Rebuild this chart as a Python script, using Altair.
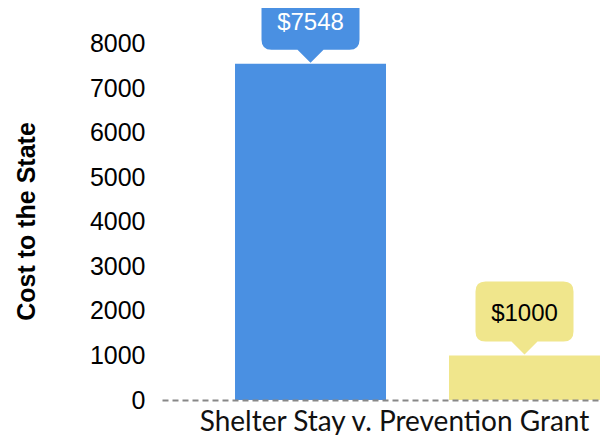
import altair as alt
import pandas as pd

categories = ["Shelter Stay", "Prevention Grant"]
costs = [7548, 1000]
labels = ["$7548", "$1000"]
y_ticks = [0, 1000, 2000, 3000, 4000, 5000, 6000, 7000, 8000]

bar_colors = ["#4a90e2", "#f0e68c"]
text_colors = ["#ffffff", "#000000"]

df = pd.DataFrame({"category": categories, "cost": costs, "label": labels})

callout_path = ("M0,-1 L-13,-14 L-39,-14 Q-49,-14 -49,-24 L-49,-64 Q-49,-74 -39,-74 "
                "L39,-74 Q49,-74 49,-64 L49,-24 Q49,-14 39,-14 L13,-14 Z")

x_enc = alt.X(
    "category:N",
    sort=categories,
    scale=alt.Scale(paddingInner=0.2944, paddingOuter=0.1706, align=1),
    axis=alt.Axis(
        labels=False, ticks=False,
        domainDash=[6, 4], domainColor="#888888", domainWidth=2, zindex=1,
        title="Shelter Stay v. Prevention Grant",
        titleFont="Lato", titleFontSize=28, titleFontWeight="normal",
        titleColor="#111111", titleX=232, titleY=30,
        titleBaseline="alphabetic", titleAlign="center",
    ),
)
y_enc = alt.Y(
    "cost:Q",
    scale=alt.Scale(domain=[0, 8600], nice=False),
    axis=alt.Axis(
        values=y_ticks, format="d", grid=False, domain=False, ticks=False,
        labelPadding=17, labelFont="Liberation Sans", labelFontSize=25,
        labelColor="#000000",
        title="Cost to the State", titleFont="Liberation Sans",
        titleFontSize=25, titleFontWeight="bold", titleColor="#000000",
        titleX=-136, titleY=204, titleBaseline="middle", titleAlign="center",
    ),
)

bar_color = alt.Color("category:N", scale=alt.Scale(domain=categories, range=bar_colors), legend=None)
txt_color = alt.Color("category:N", scale=alt.Scale(domain=categories, range=text_colors), legend=None)

base = alt.Chart(df)
bars = base.mark_bar().encode(x=x_enc, y=y_enc, color=bar_color)
callout = base.mark_point(shape=callout_path, size=4, filled=True, opacity=1, strokeWidth=0).encode(
    x=x_enc, y=y_enc, color=bar_color)
text = base.mark_text(dy=-41, fontSize=24, font="Liberation Sans", baseline="middle").encode(
    x=x_enc, y=y_enc, text="label:N", color=txt_color)

chart = (
    alt.layer(bars, callout, text)
    .resolve_scale(color="independent")
    .properties(
        width=438, height=383,
        padding={"left": 154, "top": 9, "right": 0, "bottom": 35},
        autosize=alt.AutoSizeParams(type="none"),
        background="white",
    )
    .configure_view(stroke=None)
)

chart.save("out.html", embed_options={"renderer": "svg", "actions": False})
